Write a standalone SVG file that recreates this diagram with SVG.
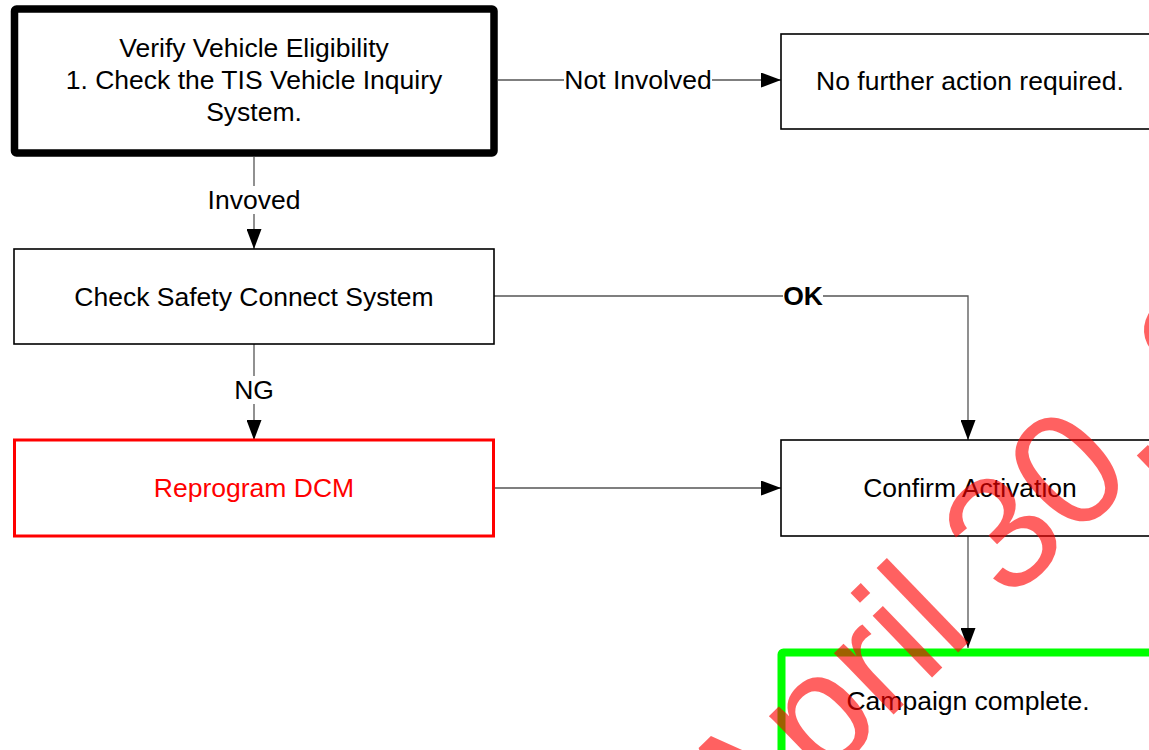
<svg xmlns="http://www.w3.org/2000/svg" width="1149" height="750" viewBox="0 0 1149 750">
<defs>
<style>
text{font-family:"Liberation Sans",Arial,sans-serif;font-size:26.5px;fill:#000;text-anchor:middle}
.box{fill:#fff;stroke:#000;stroke-width:1.6}
.conn{fill:none;stroke:#555;stroke-width:1.3}
.lbg{fill:#fff;stroke:none}
.wm{font-size:162px;fill:#ff0000;fill-opacity:0.62;text-anchor:start}
</style>
<marker id="arr" viewBox="0 0 20 15" refX="20" refY="7.5" markerWidth="20" markerHeight="15" markerUnits="userSpaceOnUse" orient="auto">
<path d="M0,0 L20,7.5 L0,15 Z" fill="#000"/>
</marker>
</defs>
<rect width="1149" height="750" fill="#fff"/>
<g id="connectors">
<path class="conn" d="M498,80 H781" marker-end="url(#arr)"/>
<path class="conn" d="M254,157 V249" marker-end="url(#arr)"/>
<path class="conn" d="M494,296 H968 V440" marker-end="url(#arr)"/>
<path class="conn" d="M254,344 V440" marker-end="url(#arr)"/>
<path class="conn" d="M494,488 H781" marker-end="url(#arr)"/>
<path class="conn" d="M968,536 V648" marker-end="url(#arr)"/>
<rect class="lbg" x="564" y="66" width="148" height="28"/>
<text x="638" y="89">Not Involved</text>
<rect class="lbg" x="206" y="186" width="96" height="28"/>
<text x="254" y="209">Invoved</text>
<rect class="lbg" x="783" y="282" width="40" height="28"/>
<text x="803" y="305" font-weight="bold">OK</text>
<rect class="lbg" x="232" y="376" width="44" height="28"/>
<text x="254" y="399">NG</text>
</g>
<g id="n1">
<rect x="14.5" y="9" width="479.5" height="144" rx="2" fill="#fff" stroke="#000" stroke-width="7.5"/>
<text x="254" y="57">Verify Vehicle Eligibility</text>
<text x="254" y="89">1. Check the TIS Vehicle Inquiry</text>
<text x="254" y="121">System.</text>
</g>
<g id="n2">
<rect class="box" x="781" y="34" width="378" height="95"/>
<text x="970" y="90">No further action required.</text>
</g>
<g id="n3">
<rect class="box" x="14" y="249" width="480" height="95"/>
<text x="254" y="306">Check Safety Connect System</text>
</g>
<g id="n4">
<rect x="14.5" y="440" width="479" height="96" fill="#fff" stroke="#ff0000" stroke-width="3"/>
<text x="254" y="497" style="fill:#ff0000">Reprogram DCM</text>
</g>
<g id="n5">
<rect class="box" x="781" y="440" width="378" height="96"/>
<text x="970" y="497">Confirm Activation</text>
</g>
<g id="n6">
<rect x="781.5" y="652.5" width="378" height="104" rx="2" fill="#fff" stroke="#00ff00" stroke-width="8"/>
<text x="968" y="710">Campaign complete.</text>
</g>
<g id="watermark" transform="translate(743,860) rotate(-44)">
<text class="wm" x="0" y="0">April 30, 2</text>
</g>
</svg>
